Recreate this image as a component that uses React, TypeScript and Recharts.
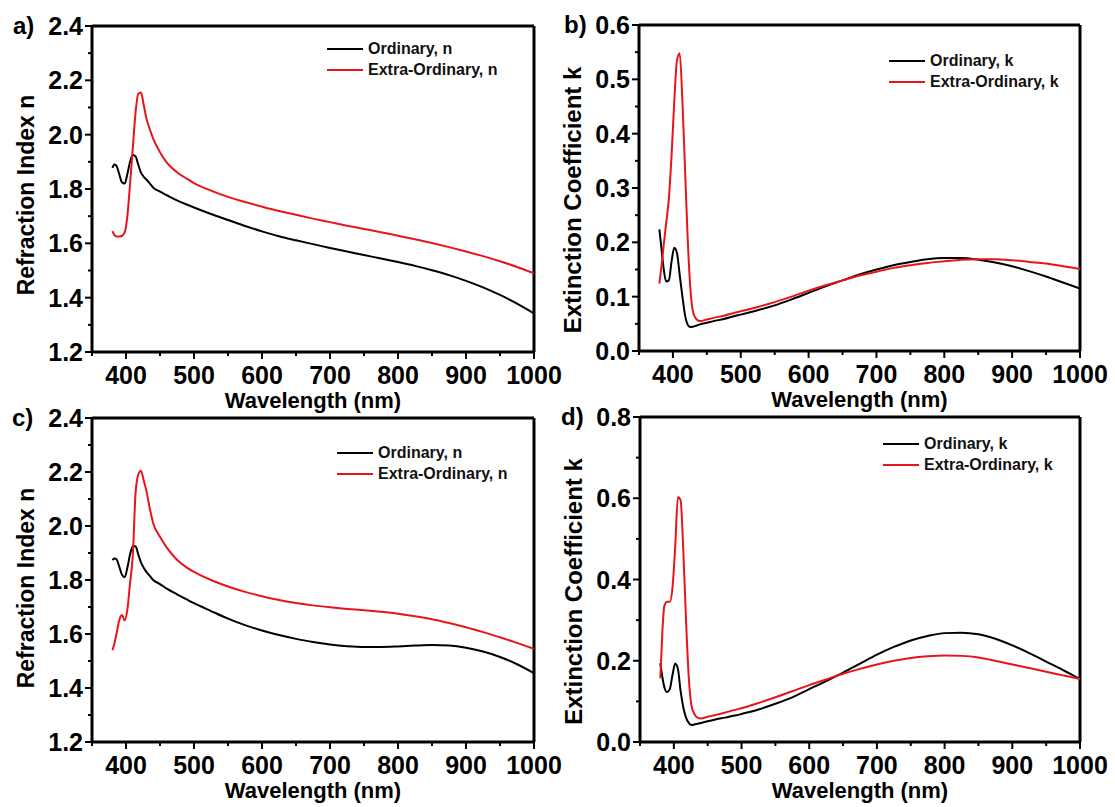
import React from "react";
import { LineChart, Line, XAxis, YAxis, Legend, ReferenceLine } from "recharts";

const FONT = '"Liberation Sans", Arial, sans-serif';
const BLACK = "#000000";
const RED = "#e8141c";

// wavelength grid (nm), shared by every curve
const wavelength = [
  380, 383, 386, 390, 394, 398, 402, 406, 410, 414, 418, 422, 426, 430, 435, 440, 450, 460, 475, 490, 500,
  525, 550, 575, 600, 625, 650, 675, 700, 725, 750, 775, 800, 825, 850, 875, 900, 925, 950, 975, 1000,
];

// a) refraction index
const nOrdA = [
  1.878, 1.89, 1.885, 1.855, 1.825, 1.82, 1.855, 1.9, 1.925, 1.92, 1.89, 1.86, 1.845, 1.835, 1.82, 1.805, 1.79,
  1.777, 1.758, 1.742, 1.732, 1.708, 1.686, 1.664, 1.644, 1.626, 1.611, 1.597, 1.583, 1.57, 1.557, 1.544, 1.531,
  1.517, 1.501, 1.483, 1.462, 1.438, 1.41, 1.378, 1.342,
];
const nExtA = [
  1.645, 1.63, 1.625, 1.625, 1.627, 1.64, 1.7, 1.82, 1.95, 2.08, 2.15, 2.155, 2.11, 2.06, 2.02, 1.985, 1.935,
  1.897, 1.862, 1.837, 1.822, 1.794, 1.771, 1.752, 1.735, 1.719, 1.705, 1.691, 1.678, 1.665, 1.653, 1.641, 1.628,
  1.615, 1.601, 1.586, 1.57, 1.553, 1.534, 1.513, 1.49,
];

// b) extinction coefficient
const kOrdB = [
  0.224, 0.19, 0.155, 0.128, 0.13, 0.165, 0.19, 0.18, 0.14, 0.1, 0.065, 0.048, 0.044, 0.045, 0.047, 0.049, 0.052,
  0.055, 0.059, 0.064, 0.067, 0.075, 0.084, 0.095, 0.107, 0.119, 0.13, 0.141, 0.15, 0.158, 0.164, 0.169, 0.171,
  0.171, 0.168, 0.163, 0.156, 0.147, 0.137, 0.126, 0.115,
];
const kExtB = [
  0.124, 0.155, 0.19, 0.235, 0.28, 0.36, 0.46, 0.535, 0.548, 0.46, 0.33, 0.2, 0.11, 0.07, 0.058, 0.055, 0.058,
  0.061, 0.065, 0.07, 0.073, 0.081, 0.09, 0.1, 0.111, 0.121, 0.13, 0.139, 0.146, 0.153, 0.158, 0.162, 0.165,
  0.168, 0.169, 0.169, 0.167, 0.164, 0.161, 0.156, 0.151,
];

// c) refraction index
const nOrdC = [
  1.874, 1.88, 1.877, 1.85, 1.82, 1.81, 1.845, 1.895, 1.925, 1.925, 1.895, 1.865, 1.845, 1.83, 1.815, 1.8, 1.785,
  1.768, 1.747, 1.727, 1.714, 1.685, 1.657, 1.633, 1.613, 1.596, 1.582, 1.57, 1.561, 1.555, 1.552, 1.552, 1.554,
  1.557, 1.559, 1.557, 1.549, 1.535, 1.515, 1.488, 1.455,
];
const nExtC = [
  1.54, 1.565, 1.6, 1.65, 1.67, 1.65, 1.69, 1.79, 1.89, 2.12, 2.19, 2.205, 2.17, 2.13, 2.065, 2.01, 1.96, 1.92,
  1.875, 1.845, 1.83, 1.8, 1.776, 1.756, 1.74, 1.726, 1.715, 1.706, 1.699, 1.693, 1.688, 1.682, 1.675, 1.666,
  1.655, 1.641, 1.625, 1.607, 1.588, 1.567, 1.545,
];

// d) extinction coefficient
const kOrdD = [
  0.194, 0.16, 0.135, 0.123, 0.13, 0.165, 0.193, 0.18, 0.125, 0.085, 0.06, 0.047, 0.042, 0.043, 0.045, 0.047,
  0.051, 0.055, 0.06, 0.065, 0.069, 0.08, 0.094, 0.11, 0.13, 0.15, 0.171, 0.193, 0.215, 0.234, 0.25, 0.261,
  0.268, 0.269, 0.265, 0.254, 0.238, 0.219, 0.198, 0.177, 0.155,
];
const kExtD = [
  0.157, 0.27, 0.335, 0.345, 0.345, 0.38, 0.48, 0.603, 0.595, 0.47, 0.3, 0.16, 0.09, 0.07, 0.06, 0.058, 0.062,
  0.066, 0.072, 0.079, 0.083, 0.096, 0.11, 0.125, 0.14, 0.154, 0.168, 0.18, 0.191, 0.2, 0.207, 0.211, 0.213,
  0.212, 0.208, 0.2, 0.191, 0.182, 0.173, 0.164, 0.155,
];

const xTicks = [350, 400, 450, 500, 550, 600, 650, 700, 750, 800, 850, 900, 950, 1000];
const xMajor = [400, 500, 600, 700, 800, 900, 1000];
const nTicks = [1.2, 1.3, 1.4, 1.5, 1.6, 1.7, 1.8, 1.9, 2.0, 2.1, 2.2, 2.3, 2.4];
const nMajor = [1.2, 1.4, 1.6, 1.8, 2.0, 2.2, 2.4];
const kTicksB = [0, 0.05, 0.1, 0.15, 0.2, 0.25, 0.3, 0.35, 0.4, 0.45, 0.5, 0.55, 0.6];
const kMajorB = [0, 0.1, 0.2, 0.3, 0.4, 0.5, 0.6];
const kTicksD = [0, 0.1, 0.2, 0.3, 0.4, 0.5, 0.6, 0.7, 0.8];
const kMajorD = [0, 0.2, 0.4, 0.6, 0.8];

const YW = 70;
const XH = 50;

const isIn = (v: number, list: number[]) => list.some((m) => Math.abs(m - v) < 1e-6);

type Box = { x: number; y: number; w: number; h: number };
type Rect = { l: number; t: number; r: number; b: number };

type PanelProps = {
  letter: string;
  letterX: number;
  cell: Box;
  plot: Rect;
  yTitle: string;
  yTitleSize: number;
  yTitleShift: number;
  yDomain: [number, number];
  yTicks: number[];
  yMajor: number[];
  ord: number[];
  ext: number[];
  sym: string;
  legend: { x: number; y: number };
};

function Panel(p: PanelProps) {
  const data = wavelength.map((w, i) => ({ w, o: p.ord[i], e: p.ext[i] }));
  const margin = {
    top: p.plot.t - p.cell.y,
    left: p.plot.l - p.cell.x - YW,
    right: p.cell.x + p.cell.w - p.plot.r,
    bottom: p.cell.y + p.cell.h - p.plot.b - XH,
  };
  const pl = p.plot.l - p.cell.x;
  const pr = p.plot.r - p.cell.x;
  const pt = p.plot.t - p.cell.y;
  const pb = p.plot.b - p.cell.y;

  const xTick = (props: any) => {
    const { x, y, payload } = props;
    const major = isIn(payload.value, xMajor);
    return (
      <g>
        <line x1={x} y1={y} x2={x} y2={y + (major ? 7 : 4)} stroke={BLACK} strokeWidth={2} />
        {major && (
          <text x={x} y={y + 32} textAnchor="middle" fontFamily={FONT} fontWeight={700} fontSize={25} fill={BLACK}>
            {payload.value}
          </text>
        )}
      </g>
    );
  };

  const yTick = (props: any) => {
    const { x, y, payload } = props;
    const major = isIn(payload.value, p.yMajor);
    return (
      <g>
        <line x1={x} y1={y} x2={x - (major ? 7 : 4)} y2={y} stroke={BLACK} strokeWidth={2} />
        {major && (
          <text x={x - 9} y={y + 9} textAnchor="end" fontFamily={FONT} fontWeight={700} fontSize={25} fill={BLACK}>
            {Number(payload.value).toFixed(1)}
          </text>
        )}
      </g>
    );
  };

  const xTitle = () => (
    <text x={(pl + pr) / 2} y={pb + 56} textAnchor="middle" fontFamily={FONT} fontWeight={700} fontSize={22} fill={BLACK}>
      Wavelength (nm)
    </text>
  );

  const yTitle = () => {
    const cx = pl - 66;
    const cy = (pt + pb) / 2 + p.yTitleShift;
    return (
      <text
        x={cx}
        y={cy}
        dy={8}
        transform={`rotate(-90, ${cx}, ${cy})`}
        textAnchor="middle"
        fontFamily={FONT}
        fontWeight={700}
        fontSize={p.yTitleSize}
        fill={BLACK}
      >
        {p.yTitle}
      </text>
    );
  };

  const legendContent = (props: any) => {
    const items = [...(props.payload || [])].sort((a: any, b: any) =>
      String(b.dataKey).localeCompare(String(a.dataKey))
    );
    return (
      <div style={{ fontFamily: FONT, fontWeight: 700, fontSize: 16, color: "#111" }}>
        {items.map((item: any) => (
          <div key={item.value} style={{ display: "flex", alignItems: "center", height: 21 }}>
            <span style={{ display: "inline-block", width: 36, borderTop: `2px solid ${item.color}`, marginRight: 5 }} />
            <span>{item.value}</span>
          </div>
        ))}
      </div>
    );
  };

  return (
    <div style={{ position: "absolute", left: p.cell.x, top: p.cell.y }}>
      <LineChart width={p.cell.w} height={p.cell.h} data={data} margin={margin}>
        <XAxis
          dataKey="w"
          type="number"
          domain={[350, 1000]}
          ticks={xTicks}
          interval={0}
          tickSize={0}
          tickMargin={0}
          tickLine={false}
          axisLine={{ stroke: BLACK, strokeWidth: 3 }}
          height={XH}
          tick={xTick}
          label={xTitle}
          allowDataOverflow
        />
        <YAxis
          type="number"
          domain={p.yDomain}
          ticks={p.yTicks}
          interval={0}
          tickSize={0}
          tickMargin={0}
          tickLine={false}
          axisLine={{ stroke: BLACK, strokeWidth: 3 }}
          width={YW}
          tick={yTick}
          label={yTitle}
          allowDataOverflow
        />
        <ReferenceLine y={p.yDomain[1]} stroke={BLACK} strokeWidth={3} />
        <ReferenceLine x={1000} stroke={BLACK} strokeWidth={3} />
        <Legend
          layout="vertical"
          align="center"
          verticalAlign="middle"
          content={legendContent}
          wrapperStyle={{ left: p.legend.x, top: p.legend.y, width: "auto" }}
        />
        <Line
          type="monotone"
          dataKey="o"
          name={`Ordinary, ${p.sym}`}
          stroke={BLACK}
          strokeWidth={2}
          dot={false}
          isAnimationActive={false}
        />
        <Line
          type="monotone"
          dataKey="e"
          name={`Extra-Ordinary, ${p.sym}`}
          stroke={RED}
          strokeWidth={2}
          dot={false}
          isAnimationActive={false}
        />
      </LineChart>
      <div
        style={{
          position: "absolute",
          left: p.letterX,
          top: pt - 15,
          fontFamily: FONT,
          fontWeight: 700,
          fontSize: 24,
          lineHeight: "30px",
          color: BLACK,
        }}
      >
        {p.letter}
      </div>
    </div>
  );
}

export default function App() {
  return (
    <div style={{ position: "absolute", left: 0, top: 0, width: 1115, height: 807, background: "#fff", overflow: "hidden" }}>
      <Panel
        letter="a)"
        letterX={13}
        cell={{ x: 0, y: 0, w: 575, h: 415 }}
        plot={{ l: 92, t: 26, r: 534, b: 352 }}
        yTitle="Refraction Index n"
        yTitleSize={23}
        yTitleShift={6}
        yDomain={[1.2, 2.4]}
        yTicks={nTicks}
        yMajor={nMajor}
        ord={nOrdA}
        ext={nExtA}
        sym="n"
        legend={{ x: 327, y: 38 }}
      />
      <Panel
        letter="b)"
        letterX={7}
        cell={{ x: 557, y: 0, w: 558, h: 415 }}
        plot={{ l: 639, t: 25, r: 1080, b: 351 }}
        yTitle="Extinction Coefficient k"
        yTitleSize={24}
        yTitleShift={12}
        yDomain={[0, 0.6]}
        yTicks={kTicksB}
        yMajor={kMajorB}
        ord={kOrdB}
        ext={kExtB}
        sym="k"
        legend={{ x: 332, y: 50 }}
      />
      <Panel
        letter="c)"
        letterX={12}
        cell={{ x: 0, y: 404, w: 575, h: 403 }}
        plot={{ l: 92, t: 418, r: 534, b: 742 }}
        yTitle="Refraction Index n"
        yTitleSize={23}
        yTitleShift={8}
        yDomain={[1.2, 2.4]}
        yTicks={nTicks}
        yMajor={nMajor}
        ord={nOrdC}
        ext={nExtC}
        sym="n"
        legend={{ x: 337, y: 38 }}
      />
      <Panel
        letter="d)"
        letterX={4}
        cell={{ x: 557, y: 404, w: 558, h: 403 }}
        plot={{ l: 640, t: 417, r: 1080, b: 742 }}
        yTitle="Extinction Coefficient k"
        yTitleSize={24}
        yTitleShift={12}
        yDomain={[0, 0.8]}
        yTicks={kTicksD}
        yMajor={kMajorD}
        ord={kOrdD}
        ext={kExtD}
        sym="k"
        legend={{ x: 326, y: 29 }}
      />
    </div>
  );
}
